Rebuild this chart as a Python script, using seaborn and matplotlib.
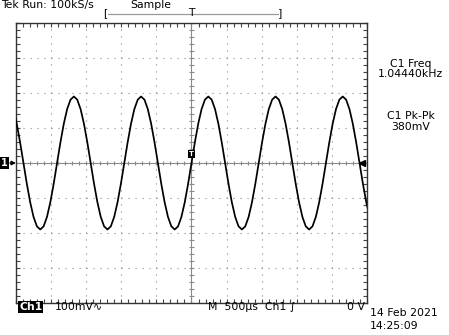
import numpy as np
import matplotlib
matplotlib.use("Agg")
import matplotlib.pyplot as plt
from matplotlib.lines import Line2D
import seaborn as sns

# ---- data ----
sample_interval_ms = 0.047875     # record sample spacing
first_sample_ms = -2.5374         # time of first record sample (trigger at 0)
trace_mv = [
    154, 112, 59, 0, -59, -112, -154, -181, -190, -181, -154, -112, -59,
    0, 59, 112, 154, 181, 190, 181, 154, 112, 59, 0, -59, -112, -154, -181, -190, -181, -154, -112, -59,
    0, 59, 112, 154, 181, 190, 181, 154, 112, 59, 0, -59, -112, -154, -181, -190, -181, -154, -112, -59,
    0, 59, 112, 154, 181, 190, 181, 154, 112, 59, 0, -59, -112, -154, -181, -190, -181, -154, -112, -59,
    0, 59, 112, 154, 181, 190, 181, 154, 112, 59, 0, -59, -112, -154, -181, -190, -181, -154, -112, -59,
    0, 59, 112, 154, 181, 190, 181, 154, 112, 59, 0, -59, -112, -154,
]
time_ms = first_sample_ms + sample_interval_ms * np.arange(len(trace_mv))

time_per_div_ms = 0.5
volts_per_div_mv = 100
trigger_level_mv = 0

header_left = "Tek Run: 100kS/s"
header_mode = "Sample"
meas_labels = ["C1 Freq", "1.04440kHz", "C1 Pk-Pk", "380mV"]
footer_ch = "Ch1"
footer_scale = "100mV∿"
footer_time = "M  500µs  Ch1 ∫"
footer_level = "0 V"
date_text = "14 Feb 2021"
time_text = "14:25:09"

# ---- figure ----
sns.set_style("white")
plt.rcParams["font.family"] = ["DejaVu Sans"]
plt.rcParams["text.color"] = "black"
W, H = 449, 335
fig = plt.figure(figsize=(W / 100, H / 100), dpi=100)
fig.patch.set_facecolor("white")
ax = fig.add_axes([16 / W, 32 / H, 351 / W, 280 / H])
ax.set_facecolor("white")

xlim = (-5 * time_per_div_ms, 5 * time_per_div_ms)
ylim = (-4 * volts_per_div_mv, 4 * volts_per_div_mv)
ax.set_xlim(*xlim)
ax.set_ylim(*ylim)

grid_col = "#8a8a8a"
ax.set_xticks(np.arange(xlim[0], xlim[1] + 1e-9, time_per_div_ms))
ax.set_yticks(np.arange(ylim[0], ylim[1] + 1e-9, volts_per_div_mv))
ax.set_xticks(np.arange(xlim[0], xlim[1] + 1e-9, time_per_div_ms / 5), minor=True)
ax.set_yticks(np.arange(ylim[0], ylim[1] + 1e-9, volts_per_div_mv / 5), minor=True)
ax.tick_params(which="both", direction="in", length=3, width=0.8, color="#444444",
               top=True, right=True, bottom=True, left=True,
               labelbottom=False, labelleft=False)
ax.grid(True, which="major", color=grid_col, linestyle=(0, (1, 5.3)), linewidth=0.8)
for s in ax.spines.values():
    s.set_color("#333333")
    s.set_linewidth(1.0)

# center crosshair with minor ticks
ax.axhline(0, color=grid_col, lw=0.8, zorder=1)
ax.axvline(0, color=grid_col, lw=0.8, zorder=1)
mx = np.arange(xlim[0], xlim[1] + 1e-9, time_per_div_ms / 5)
my = np.arange(ylim[0], ylim[1] + 1e-9, volts_per_div_mv / 5)
ax.vlines(mx, -6, 6, color=grid_col, lw=0.8, zorder=1)
ax.hlines(my, -0.03, 0.03, color=grid_col, lw=0.8, zorder=1)

# trace
sns.lineplot(x=time_ms, y=trace_mv, ax=ax, color="black", linewidth=1.25,
             estimator=None, sort=False, zorder=3)

# trigger level marker (right) and ground marker (left)
ax.plot([0.985], [trigger_level_mv], marker="<", markersize=5, color="black",
        transform=ax.get_yaxis_transform(), clip_on=False, zorder=4)
ax.text(-15.5 / 351, 0, "1", transform=ax.get_yaxis_transform(), color="white",
        fontsize=7, fontweight="bold", va="center", ha="left", zorder=5,
        bbox=dict(facecolor="black", edgecolor="none", pad=1.0))
ax.annotate("", xy=(0.0, 0), xytext=(-6 / 351, 0),
            xycoords=ax.get_yaxis_transform(), textcoords=ax.get_yaxis_transform(),
            arrowprops=dict(arrowstyle="-|>", color="black", lw=1.0,
                            mutation_scale=6, shrinkA=0, shrinkB=0),
            annotation_clip=False, zorder=6)
# trigger point marker
ax.text(0, 26, "T", color="white", fontsize=5, fontweight="bold", ha="center",
        va="center", zorder=5,
        bbox=dict(facecolor="black", edgecolor="none", pad=0.8))

fs = 7.8
def ftext(x, y, s, **kw):
    kw.setdefault("fontsize", fs)
    kw.setdefault("va", "center")
    kw.setdefault("color", "black")
    fig.text(x / W, 1 - y / H, s, **kw)

# header
ftext(1, 5, header_left)
ftext(130, 5, header_mode)
ftext(105, 13, "[", ha="center")
ftext(280, 13, "]", ha="center")
ftext(191.5, 13, "T", ha="center")
fig.add_artist(Line2D([108 / W, 278 / W], [1 - 14 / H, 1 - 14 / H],
                      color="#999999", lw=0.9))

# measurements
ftext(411, 64, meas_labels[0], ha="center")
ftext(410, 74, meas_labels[1], ha="center")
ftext(411, 116, meas_labels[2], ha="center")
ftext(411, 127, meas_labels[3], ha="center")

# footer
ftext(19, 307, footer_ch, color="white", fontweight="bold",
      bbox=dict(facecolor="black", edgecolor="none", pad=0.8))
ftext(55, 307, footer_scale)
ftext(208, 307, footer_time)
ftext(365, 307, footer_level, ha="right")
ftext(370, 313, date_text)
ftext(370, 326, time_text)

fig.savefig("out.png", dpi=100, facecolor="white")
